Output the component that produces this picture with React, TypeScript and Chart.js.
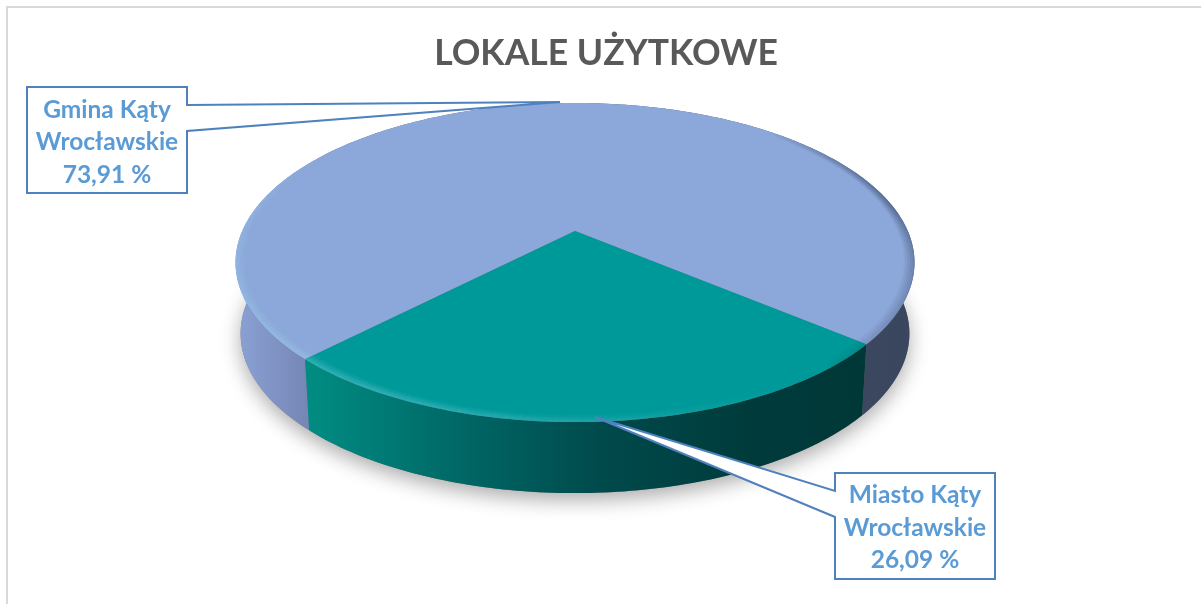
import React, { useEffect, useRef } from "react";
import { Chart, registerables } from "chart.js";

Chart.register(...registerables);

const chartTitle = "LOKALE UŻYTKOWE";
const categories = ["Gmina Kąty Wrocławskie", "Miasto Kąty Wrocławskie"];
const shareValues = [73.91, 26.09];
const topColors = ["#8ca7d9", "#009999"];
const FONT = "Lato";

// Perspective tilt of the pie disc, relative to the library's outer radius
const TILT = 0.1975;
const X_STRETCH = 2.6;
const Y_STRETCH = 1.198;
const DEPTH = 71;
const BASE_SHRINK = 0.985;

const wallStops: [number, string][][] = [
  [[235, "#8ba2d6"], [314, "#7484b2"], [330, "#6c7ba6"], [850, "#3c4860"], [915, "#3a465e"]],
  [[310, "#008c82"], [450, "#006a68"], [600, "#004a4c"], [760, "#003a3a"], [860, "#003838"]],
];

const callouts = [
  { box: [27, 87, 160, 106], wedge: [[187, 105], [560, 102], [187, 131]], lineY: [110, 142, 175] },
  { box: [835, 473, 160, 106], wedge: [[835, 491], [595, 417], [835, 517]], lineY: [495, 528, 560] },
];

function pieFrame(arc: any) {
  const R = arc.outerRadius;
  const cx = arc.x;
  const cy = arc.y;
  return (t: number, r = 1, base = false): [number, number] => {
    const u = r * Math.cos(t);
    const v = r * Math.sin(t);
    const w = 1 - TILT * v;
    let x = (X_STRETCH * R * u) / w;
    let y = (Y_STRETCH * R * v) / w;
    if (base) {
      x *= BASE_SHRINK;
      y += DEPTH;
    }
    return [cx + x, cy + y];
  };
}

function rimAngles(a: number, b: number) {
  const n = Math.max(2, Math.ceil(((b - a) * 180) / Math.PI));
  const out: number[] = [];
  for (let i = 0; i <= n; i++) out.push(a + ((b - a) * i) / n);
  return out;
}

const perspectivePie = {
  id: "perspectivePie",
  beforeDraw(chart: any) {
    const ctx = chart.ctx;
    ctx.save();
    ctx.fillStyle = "#ffffff";
    ctx.fillRect(0, 0, chart.width, chart.height);
    ctx.strokeStyle = "#d9d9d9";
    ctx.lineWidth = 2;
    ctx.beginPath();
    ctx.moveTo(7, chart.height);
    ctx.lineTo(7, 7);
    ctx.lineTo(chart.width, 7);
    ctx.stroke();
    ctx.restore();
  },
  afterLayout(chart: any) {
    chart.titleBlock.left += 31;
    chart.titleBlock.right += 31;
  },
  beforeDatasetDraw(chart: any) {
    const ctx = chart.ctx;
    const arcs = chart.getDatasetMeta(0).data;
    const P = pieFrame(arcs[0]);
    ctx.save();

    // soft ground shadow
    ctx.save();
    ctx.shadowColor = "rgba(0,0,0,0.33)";
    ctx.shadowBlur = 20;
    ctx.shadowOffsetY = 7;
    ctx.fillStyle = "#777";
    ctx.beginPath();
    rimAngles(0, Math.PI * 2).forEach((t, i) => {
      const [x, y] = P(t, 1, true);
      i ? ctx.lineTo(x, y) : ctx.moveTo(x, y);
    });
    ctx.closePath();
    ctx.fill();
    ctx.restore();

    // side walls
    arcs.forEach((arc: any, idx: number) => {
      const ts = rimAngles(arc.startAngle, arc.endAngle);
      const stops = wallStops[idx];
      const x0 = stops[0][0];
      const x1 = stops[stops.length - 1][0];
      const g = ctx.createLinearGradient(x0, 0, x1, 0);
      stops.forEach(([x, c]) => g.addColorStop((x - x0) / (x1 - x0), c));
      ctx.fillStyle = g;
      ctx.beginPath();
      ts.forEach((t, i) => {
        const [x, y] = P(t);
        i ? ctx.lineTo(x, y) : ctx.moveTo(x, y);
      });
      [...ts].reverse().forEach((t) => {
        const [x, y] = P(t, 1, true);
        ctx.lineTo(x, y);
      });
      ctx.closePath();
      ctx.fill();
    });

    // top faces with bevelled rim
    arcs.forEach((arc: any, idx: number) => {
      const ts = rimAngles(arc.startAngle, arc.endAngle);
      ctx.save();
      ctx.beginPath();
      ctx.moveTo(arc.x, arc.y);
      ts.forEach((t) => {
        const [x, y] = P(t);
        ctx.lineTo(x, y);
      });
      ctx.closePath();
      ctx.fillStyle = topColors[idx];
      ctx.fill();
      ctx.clip();
      ctx.lineWidth = 2.5;
      for (let k = 0; k < 7; k++) {
        const r = 1 - k * 0.0045;
        for (let i = 0; i < ts.length - 1; i++) {
          const mid = (ts[i] + ts[i + 1]) / 2;
          const face = Math.cos(mid - (140 * Math.PI) / 180);
          const s = Math.sin(mid);
          const fade = Math.min(1, Math.max(0, (s + 0.75) / 0.6));
          const fall = 1 - k / 7;
          const lit = face > 0;
          const a = (lit ? 0.17 : 0.24) * Math.abs(face) ** (lit ? 1.5 : 0.7) * fade * fall;
          ctx.strokeStyle = lit ? `rgba(170,235,255,${a})` : `rgba(0,20,40,${a})`;
          ctx.beginPath();
          const [ax, ay] = P(ts[i], r);
          const [bx, by] = P(ts[i + 1], r);
          ctx.moveTo(ax, ay);
          ctx.lineTo(bx, by);
          ctx.stroke();
        }
      }
      ctx.restore();
    });
    ctx.restore();
    return false;
  },
  afterDatasetsDraw(chart: any) {
    const ctx = chart.ctx;
    const values = chart.data.datasets[0].data;
    ctx.save();
    callouts.forEach((c, idx) => {
      const [x, y, w, h] = c.box;
      const [p1, tip, p2] = c.wedge;
      ctx.beginPath();
      ctx.moveTo(x, y);
      ctx.lineTo(x + w, y);
      if (p1[0] === x + w) {
        ctx.lineTo(p1[0], p1[1]);
        ctx.lineTo(tip[0], tip[1]);
        ctx.lineTo(p2[0], p2[1]);
      }
      ctx.lineTo(x + w, y + h);
      ctx.lineTo(x, y + h);
      if (p1[0] === x) {
        ctx.lineTo(p2[0], p2[1]);
        ctx.lineTo(tip[0], tip[1]);
        ctx.lineTo(p1[0], p1[1]);
      }
      ctx.closePath();
      ctx.fillStyle = "#ffffff";
      ctx.fill();
      ctx.strokeStyle = "#4f81bd";
      ctx.lineWidth = 2;
      ctx.lineJoin = "miter";
      ctx.stroke();

      const words = chart.data.labels[idx].split(" ");
      const lines = [
        words.slice(0, 2).join(" "),
        words.slice(2).join(" "),
        `${values[idx].toFixed(2).replace(".", ",")} %`,
      ];
      ctx.fillStyle = "#5b9bd5";
      ctx.font = `bold 24.5px ${FONT}`;
      ctx.textAlign = "center";
      ctx.textBaseline = "middle";
      lines.forEach((line, i) => ctx.fillText(line, x + w / 2, c.lineY[i]));
    });
    ctx.restore();
  },
};

export default function App() {
  const ref = useRef<HTMLCanvasElement>(null);
  useEffect(() => {
    const chart = new Chart(ref.current as HTMLCanvasElement, {
      type: "pie",
      data: {
        labels: categories,
        datasets: [{ data: shareValues, backgroundColor: topColors, borderWidth: 0 }],
      },
      options: {
        animation: false,
        responsive: false,
        rotation: 224.1,
        layout: { padding: { left: 235, right: 286, top: 32, bottom: 245 } },
        plugins: {
          legend: { display: false },
          tooltip: { enabled: false },
          title: {
            display: true,
            text: chartTitle,
            color: "#595959",
            font: { family: FONT, size: 35.5, weight: "bold", lineHeight: 1.2 },
            padding: { top: 0, bottom: 28.4 },
          },
        },
      },
      plugins: [perspectivePie],
    } as any);
    return () => chart.destroy();
  }, []);
  return (
    <canvas
      ref={ref}
      width={1201}
      height={604}
      style={{ position: "absolute", left: 0, top: 0, display: "block", width: 1201, height: 604 }}
    />
  );
}
